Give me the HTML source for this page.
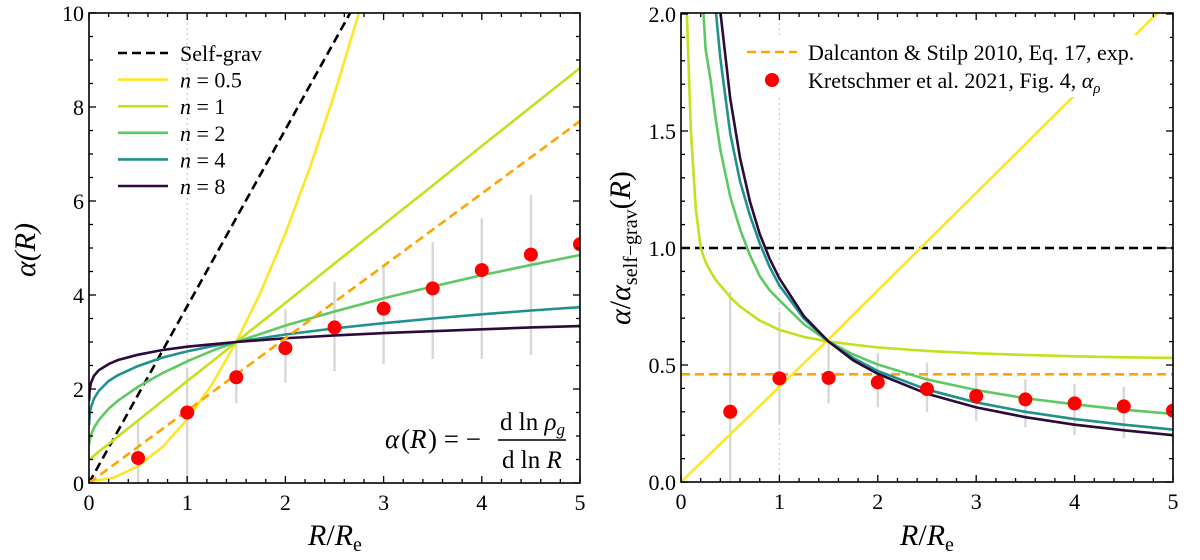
<!DOCTYPE html>
<html><head><meta charset="utf-8"><style>
body{margin:0;background:#fff;}
svg{display:block;font-family:"Liberation Serif",serif;}
svg text{font-family:"Liberation Serif",serif;}
.tk{font-size:22px;fill:#000;}
</style></head><body>
<svg id="chart" width="1200" height="560" viewBox="0 0 1200 560" xmlns="http://www.w3.org/2000/svg">
<defs>
<clipPath id="clipL"><rect x="89" y="13" width="491" height="470"/></clipPath>
<clipPath id="clipR"><rect x="681" y="13" width="492" height="469"/></clipPath>
</defs>
<g id="left"></g>
<g id="right"></g>
<text x="35" y="250" font-size="30" font-style="italic" text-anchor="middle" transform="rotate(-90 35 250)">α(R)</text>
<text x="335" y="545" font-size="30" text-anchor="middle"><tspan font-style="italic">R</tspan>/<tspan font-style="italic">R</tspan><tspan font-size="20" dy="6">e</tspan></text>
<text x="927" y="545" font-size="30" text-anchor="middle"><tspan font-style="italic">R</tspan>/<tspan font-style="italic">R</tspan><tspan font-size="20" dy="6">e</tspan></text>
<text x="630" y="248" font-size="30" text-anchor="middle" transform="rotate(-90 630 248)"><tspan font-style="italic">α</tspan>/<tspan font-style="italic">α</tspan><tspan font-size="20" dy="7">self−grav</tspan><tspan dy="-7">(</tspan><tspan font-style="italic">R</tspan>)</text>
<g font-size="27">
<text x="385" y="448" font-style="italic">α</text><text x="401" y="448">(</text><text x="410" y="448" font-style="italic">R</text><text x="428" y="448">) = −</text>
<line x1="498" y1="440" x2="566" y2="440" stroke="#000" stroke-width="1.5"/>
<text x="500" y="430" font-size="25">d ln <tspan font-style="italic">ρ</tspan><tspan font-size="17" dy="5" font-style="italic">g</tspan></text>
<text x="502" y="468" font-size="25">d ln <tspan font-style="italic">R</tspan></text>
</g>
</svg>
<script>
// ---- data ----
const gridR = [0.001,0.005,0.01,0.02,0.05,0.1,0.2,0.3,0.5,0.75,1,1.25,1.5,2,2.5,3,3.5,4,4.5,5];
const alphaN8 = [1.75,1.93,2.02,2.13,2.28,2.40,2.53,2.62,2.73,2.83,2.90,2.95,3.00,3.08,3.14,3.19,3.23,3.27,3.31,3.34];
const alphaN4 = [1.23,1.40,1.49,1.61,1.79,1.96,2.17,2.30,2.49,2.67,2.80,2.91,3.00,3.16,3.29,3.40,3.50,3.59,3.67,3.74];
const alphaN2 = [0.82,0.89,0.94,1.02,1.17,1.34,1.58,1.76,2.05,2.34,2.59,2.81,3.00,3.35,3.65,3.93,4.18,4.42,4.64,4.85];
const alphaN1 = [0.50,0.51,0.52,0.53,0.58,0.67,0.83,1.00,1.33,1.75,2.17,2.58,3.00,3.83,4.67,5.50,6.33,7.17,8.00,8.83];
const gridR05 = [0,0.25,0.5,0.75,1,1.25,1.5,1.75,2,2.25,2.5,2.75,3];
const alphaN05 = [0.03,0.11,0.36,0.77,1.35,2.09,3.00,4.07,5.31,6.71,8.28,10.01,11.91];
const selfGravR = [0,5];
const selfGravVals = [0,18.8];
const dsLeftR = [0,5];
const dsLeftVals = [0,7.7];
const obsR = [0.5,1,1.5,2,2.5,3,3.5,4,4.5,5];
const obsLeft = [0.53,1.50,2.25,2.87,3.31,3.71,4.14,4.53,4.86,5.08];
const obsLeftLo = [0,0,1.70,2.13,2.38,2.53,2.64,2.64,2.72,2.80];
const obsLeftHi = [1.35,2.45,2.95,3.70,4.28,4.62,5.13,5.63,6.13,6.50];
// right panel
const gridRR = [0.05,0.06,0.1,0.15,0.2,0.25,0.3,0.35,0.4,0.5,0.6,0.7,0.8,0.9,1,1.25,1.5,1.75,2,2.5,3,3.5,4,4.5,5];
const ratioN8 = [30,25,12,6.5,4.4,3.3,2.62,2.28,2.01,1.64,1.385,1.20,1.06,0.955,0.87,0.708,0.60,0.52,0.462,0.377,0.319,0.277,0.245,0.221,0.200];
const ratioN4 = [25,20,9,5,3.25,2.7,2.30,2.03,1.81,1.49,1.285,1.14,1.02,0.92,0.84,0.698,0.60,0.53,0.474,0.395,0.340,0.300,0.269,0.245,0.224];
const ratioN2 = [12,9,5,3,2.2,1.85,1.72,1.56,1.42,1.22,1.08,0.97,0.88,0.82,0.777,0.674,0.60,0.545,0.502,0.438,0.393,0.358,0.332,0.309,0.291];
const ratioN1 = [2.4,2.0,1.5,1.17,1.0,0.94,0.90,0.865,0.84,0.79,0.75,0.72,0.69,0.67,0.65,0.62,0.60,0.587,0.575,0.56,0.55,0.543,0.537,0.533,0.53];
const ratioN05R = [0,1.5,5];
const ratioN05 = [0,0.61,2.07];
const selfGravRatio = 1.0;
const dsRatio = 0.46;
const obsRight = [0.30,0.443,0.445,0.426,0.397,0.367,0.353,0.336,0.323,0.305];
const obsRightLo = [0,0.25,0.336,0.32,0.298,0.262,0.234,0.20,0.187,0.17];
const obsRightHi = [0.813,0.728,0.60,0.55,0.51,0.465,0.439,0.42,0.407,0.39];
const xTicks = [0,1,2,3,4,5];
const yTicksL = [0,2,4,6,8,10];
const yTicksR = [0.0,0.5,1.0,1.5,2.0];

// ---- axes ----
const NS='http://www.w3.org/2000/svg';
const xL = r => 89 + r*98.2, yL = v => 483 - v*47;
const xR = r => 681 + r*98.4, yR = v => 482 - v*234;
function el(tag, attrs, parent){const e=document.createElementNS(NS,tag);for(const k in attrs)e.setAttribute(k,attrs[k]);parent.appendChild(e);return e;}
function poly(parent, xs, ys, fx, fy, color, dash, name, clip){
  const p = xs.map((x,i)=>fx(x).toFixed(2)+','+fy(ys[i]).toFixed(2)).join(' ');
  const e = el('polyline',{points:p,fill:'none',stroke:color,'stroke-width':2.6,'stroke-dasharray':dash||'none','clip-path':clip,'stroke-linejoin':'round'},parent);
  
  
}
function frame(parent, x0,y0,w,h, fx, fy, xt, yt, yMinorStep, yMax, prefix, yFmt){
  const g = el('g',{},parent);
  
  
  for(let i=0;i<=25;i++){const r=i*0.2; const x=fx(r); const major = i%5===0; const L = major?7:4;
    el('line',{x1:x,y1:y0+h,x2:x,y2:y0+h-L,stroke:'#000','stroke-width':1.3},g);
    el('line',{x1:x,y1:y0,x2:x,y2:y0+L,stroke:'#000','stroke-width':1.3},g);}
  const nMin = Math.round(yMax/yMinorStep);
  for(let i=0;i<=nMin;i++){const v=i*yMinorStep; const y=fy(v); const major = i%(nMin/ (yt.length-1))===0; const L=major?7:4;
    el('line',{x1:x0,y1:y,x2:x0+L,y2:y,stroke:'#000','stroke-width':1.3},g);
    el('line',{x1:x0+w,y1:y,x2:x0+w-L,y2:y,stroke:'#000','stroke-width':1.3},g);}
  xt.forEach(t=>{const tx=el('text',{x:fx(t),y:y0+h+27,'text-anchor':'middle',class:'tk'},g);tx.textContent=t;
    
    });
  yt.forEach(t=>{const tx=el('text',{x:x0-5,y:fy(t)+8,'text-anchor':'end',class:'tk'},g);tx.textContent=yFmt(t);
    
    });
  const b = el('rect',{x:x0,y:y0,width:w,height:h,fill:'none',stroke:'#000','stroke-width':1.6},g);
  
  
}
const colors = {n05:'#fde725',n1:'#c6df1f',n2:'#5ec962',n4:'#21918c',n8:'#2c0a3b'};

// ---- left ----
const gl = document.getElementById('left');
let ref = el('line',{x1:xL(1),y1:13,x2:xL(1),y2:483,stroke:'#ccc','stroke-width':1.2,'stroke-dasharray':'2,3'},gl);


obsR.forEach((r,i)=>{const e=el('line',{x1:xL(r),y1:yL(obsLeftLo[i]),x2:xL(r),y2:yL(obsLeftHi[i]),stroke:'#d8d8d8','stroke-width':2.4,'clip-path':'url(#clipL)'},gl);
  
  });
poly(gl,selfGravR,selfGravVals,xL,yL,'#000','9,5','left-self-grav-line','url(#clipL)');
poly(gl,gridR05,alphaN05,xL,yL,colors.n05,null,'left-n0.5-line','url(#clipL)');
poly(gl,gridR,alphaN1,xL,yL,colors.n1,null,'left-n1-line','url(#clipL)');
poly(gl,gridR,alphaN2,xL,yL,colors.n2,null,'left-n2-line','url(#clipL)');
poly(gl,gridR,alphaN4,xL,yL,colors.n4,null,'left-n4-line','url(#clipL)');
poly(gl,gridR,alphaN8,xL,yL,colors.n8,null,'left-n8-line','url(#clipL)');
poly(gl,dsLeftR,dsLeftVals,xL,yL,'#ffa500','9,5','left-dalcanton-line','url(#clipL)');
obsR.forEach((r,i)=>{const c=el('circle',{cx:xL(r),cy:yL(obsLeft[i]),r:7,fill:'#ff0000','clip-path':'url(#clipL)'},gl);
  
  });
frame(gl,89,13,491,470,xL,yL,xTicks,yTicksL,0.5,10,'left',t=>String(t));
// legend left
const legL = el('g',{},gl);


[['Self-grav','#000','9,5',null],['0.5',colors.n05,null,1],['1',colors.n1,null,1],['2',colors.n2,null,1],['4',colors.n4,null,1],['8',colors.n8,null,1]].forEach((d,i)=>{
  const y = 53 + i*26.6;
  el('line',{x1:118,y1:y,x2:168,y2:y,stroke:d[1],'stroke-width':2.6,'stroke-dasharray':d[2]||'none'},legL);
  const t = el('text',{x:180,y:y+8,'font-size':22},legL);
  if(d[3]){ t.innerHTML = '<tspan font-style="italic">n</tspan> = '+d[0]; } else t.textContent = d[0];
  
  
});

// ---- right ----
const gr = document.getElementById('right');
ref = el('line',{x1:xR(1),y1:13,x2:xR(1),y2:482,stroke:'#ccc','stroke-width':1.2,'stroke-dasharray':'2,3'},gr);


obsR.forEach((r,i)=>{const e=el('line',{x1:xR(r),y1:yR(obsRightLo[i]),x2:xR(r),y2:yR(obsRightHi[i]),stroke:'#d8d8d8','stroke-width':2.4,'clip-path':'url(#clipR)'},gr);
  
  });
poly(gr,[0,5],[selfGravRatio,selfGravRatio],xR,yR,'#000','9,5','right-self-grav-line','url(#clipR)');
poly(gr,[0,5],[dsRatio,dsRatio],xR,yR,'#ffa500','9,5','right-dalcanton-line','url(#clipR)');
poly(gr,ratioN05R,ratioN05,xR,yR,colors.n05,null,'right-n0.5-line','url(#clipR)');
poly(gr,gridRR,ratioN1,xR,yR,colors.n1,null,'right-n1-line','url(#clipR)');
poly(gr,gridRR,ratioN2,xR,yR,colors.n2,null,'right-n2-line','url(#clipR)');
poly(gr,gridRR,ratioN4,xR,yR,colors.n4,null,'right-n4-line','url(#clipR)');
poly(gr,gridRR,ratioN8,xR,yR,colors.n8,null,'right-n8-line','url(#clipR)');
obsR.forEach((r,i)=>{const c=el('circle',{cx:xR(r),cy:yR(obsRight[i]),r:7,fill:'#ff0000','clip-path':'url(#clipR)'},gr);
  
  });
frame(gr,681,13,492,469,xR,yR,xTicks,yTicksR,0.1,2,'right',t=>t.toFixed(1));
// legend right
const legR = el('g',{},gr);


el('rect',{x:740,y:35,width:430,height:62,fill:'#fff'},legR);
el('line',{x1:747,y1:52,x2:797,y2:52,stroke:'#ffa500','stroke-width':2.6,'stroke-dasharray':'9,5'},legR);
let lt = el('text',{x:808,y:60,'font-size':22},legR);
lt.textContent='Dalcanton & Stilp 2010, Eq. 17, exp.';


el('circle',{cx:772,cy:80,r:7,fill:'#ff0000'},legR);
lt = el('text',{x:808,y:88,'font-size':22},legR);
lt.innerHTML='Kretschmer et al. 2021, Fig. 4, <tspan font-style="italic">α</tspan><tspan font-size="15" dy="5" font-style="italic">ρ</tspan>';


</script>
</body></html>
